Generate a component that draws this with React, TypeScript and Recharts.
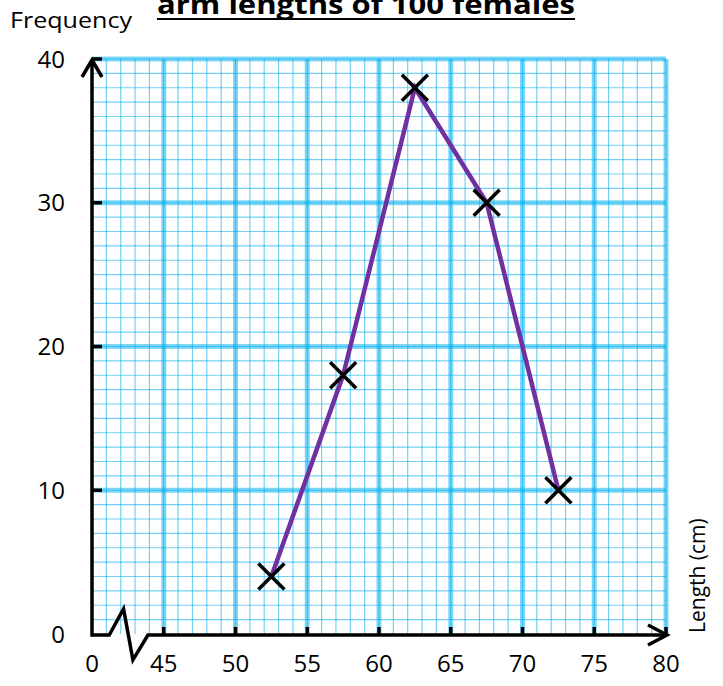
import React from 'react';
import { LineChart, Line, XAxis, YAxis, CartesianGrid, ReferenceLine } from 'recharts';

// Data: class midpoints (cm) and frequencies
const lengthMidpoints = [52.5, 57.5, 62.5, 67.5, 72.5];
const frequencies = [4, 18, 38, 30, 10];

// Axis ticks
const xTicks = [40, 45, 50, 55, 60, 65, 70, 75, 80];
const yTicks = [0, 10, 20, 30, 40];
const xTickLabels = ['0', '45', '50', '55', '60', '65', '70', '75', '80'];

// Graph-paper grid values
const xMinor: number[] = [];
for (let v = 41; v <= 80; v += 1) xMinor.push(v);
const yMinor: number[] = [];
for (let v = 1; v <= 40; v += 1) yMinor.push(v);
const xMajor = [45, 50, 55, 60, 65, 70, 75, 80];
const yMajor = [10, 20, 30, 40];

const data = lengthMidpoints.map((x, i) => ({ length: x, frequency: frequencies[i] }));

const FONT = '"Open Sans", "Noto Sans", sans-serif';

const Cross = (props: any) => {
  const { cx, cy, index } = props;
  if (cx == null || cy == null) return <g key={`c-${index}`} />;
  const s = 13;
  return (
    <g key={`c-${index}`}>
      <line x1={cx - s} y1={cy - s} x2={cx + s} y2={cy + s} stroke="#000" strokeWidth={3.5} />
      <line x1={cx - s} y1={cy + s} x2={cx + s} y2={cy - s} stroke="#000" strokeWidth={3.5} />
    </g>
  );
};

// Draws the axes (with arrows, zig-zag break and tick marks) using the two
// pixel corners (40,0) and (80,40) that the reference segment provides.
const AxisFrame = (p: any) => {
  const { x1, y1, x2, y2 } = p;
  if (x1 == null) return null;
  const ux = (x2 - x1) / 40;
  const uy = (y1 - y2) / 40;
  const X = (v: number) => x1 + (v - 40) * ux;
  const Y = (v: number) => y1 - v * uy;
  const y0 = Y(0) + 1;
  const xa = X(40);
  const sw = 3.5;
  const zig = [
    [X(40), y0],
    [X(41.2), y0],
    [X(42.2), Y(1.75)],
    [X(42.85), Y(-1.8)],
    [X(43.9), y0],
    [X(80) + 1, y0],
  ]
    .map((pt, i) => `${i === 0 ? 'M' : 'L'}${pt[0]},${pt[1]}`)
    .join(' ');
  const ax = X(80) + 1;
  const top = Y(40);
  return (
    <g fill="none" stroke="#000" strokeWidth={sw}>
      <line x1={xa} y1={y0 + sw / 2} x2={xa} y2={top + 1} />
      <path d={`M${xa - 10},${top + 18} L${xa},${top + 1} L${xa + 10},${top + 18}`} strokeLinejoin="miter" />
      <path d={zig} strokeLinejoin="miter" />
      <path d={`M${ax - 19},${y0 - 10} L${ax},${y0} L${ax - 19},${y0 + 10}`} strokeLinejoin="miter" />
      {yMajor.map((v) => (
        <line key={`yt${v}`} x1={xa} y1={Y(v)} x2={xa + 10} y2={Y(v)} />
      ))}
      {xMajor.map((v) => (
        <line key={`xt${v}`} x1={X(v)} y1={y0} x2={X(v)} y2={y0 - 8} />
      ))}
    </g>
  );
};

export default function App() {
  return (
    <div style={{ position: 'absolute', left: 0, top: 0, width: 723, height: 686, background: '#fff' }}>
      <LineChart
        width={723}
        height={686}
        data={data}
        margin={{ top: 59, right: 57, left: 32, bottom: 12 }}
      >
        <CartesianGrid
          stroke="rgba(0,170,235,0.55)"
          strokeWidth={1.2}
          verticalValues={xMinor}
          horizontalValues={yMinor}
        />
        <CartesianGrid
          stroke="rgba(0,176,240,0.5)"
          strokeWidth={5}
          verticalValues={xMajor}
          horizontalValues={yMajor}
        />
        <XAxis
          dataKey="length"
          type="number"
          domain={[40, 80]}
          ticks={xTicks}
          interval={0}
          axisLine={false}
          tickLine={false}
          tickSize={0}
          tickMargin={21}
          height={40}
          tickFormatter={(v: number) => xTickLabels[xTicks.indexOf(v)] ?? String(v)}
          tick={{ fill: '#000', fontSize: 24, fontFamily: FONT }}
        />
        <YAxis
          type="number"
          domain={[0, 40]}
          ticks={yTicks}
          interval={0}
          axisLine={false}
          tickLine={false}
          tickSize={0}
          tickMargin={27}
          width={60}
          tick={{ fill: '#000', fontSize: 24, fontFamily: FONT }}
        />
        <ReferenceLine
          segment={[{ x: 40, y: 0 }, { x: 80, y: 40 }]}
          ifOverflow="visible"
          shape={(p: any) => <AxisFrame {...p} />}
        />
        <Line
          dataKey="frequency"
          stroke="#7030a0"
          strokeWidth={4.5}
          isAnimationActive={false}
          dot={(p: any) => <Cross {...p} key={`dot-${p.index}`} />}
          activeDot={false}
        />
      </LineChart>
      <svg
        width={723}
        height={686}
        style={{ position: 'absolute', left: 0, top: 0, pointerEvents: 'none' }}
      >
        <text
          x={157}
          y={14}
          fontFamily={FONT}
          fontWeight="bold"
          fontSize={27}
          textLength={418}
          lengthAdjust="spacingAndGlyphs"
          fill="#000"
        >
          arm lengths of 100 females
        </text>
        <line x1={157} y1={19} x2={575} y2={19} stroke="#000" strokeWidth={2} />
        <text
          x={10}
          y={28}
          fontFamily={FONT}
          fontSize={21}
          textLength={122}
          lengthAdjust="spacingAndGlyphs"
          fill="#000"
        >
          Frequency
        </text>
        <text
          x={0}
          y={0}
          transform="translate(705,633) rotate(-90)"
          fontFamily={FONT}
          fontSize={21}
          fill="#000"
        >
          Length (cm)
        </text>
      </svg>
    </div>
  );
}
